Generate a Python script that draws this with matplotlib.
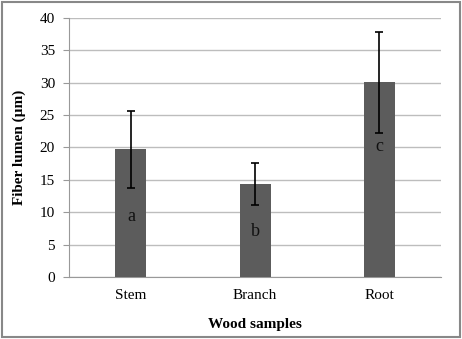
import matplotlib
matplotlib.use("Agg")
import matplotlib.pyplot as plt
from matplotlib.patches import Rectangle

categories = ["Stem", "Branch", "Root"]
values = [19.7, 14.4, 30.1]
errors = [5.9, 3.25, 7.8]
letters = ["a", "b", "c"]
letter_y = [9.3, 7.0, 20.2]

plt.rcParams['font.family'] = ['Liberation Serif', 'DejaVu Serif']

fig = plt.figure(figsize=(4.62, 3.39), dpi=100)
ax = fig.add_axes([0.149, 0.183, 0.806, 0.764])

x = list(range(len(categories)))
ax.bar(x, values, width=0.25, color="#5c5c5c", zorder=3,
       yerr=errors, error_kw=dict(ecolor="black", elinewidth=1.2, capsize=3, capthick=1.2, zorder=4))
for xi, ly, t in zip(x, letter_y, letters):
    ax.text(xi, ly, t, ha="center", va="center", fontsize=13, color="#111111", zorder=5)

ax.set_xlim(-0.5, 2.5)
ax.set_ylim(0, 40)
ax.set_yticks(range(0, 41, 5))
ax.set_xticks(x)
ax.set_xticklabels(categories)
ax.yaxis.grid(True, color="#bdbdbd", linewidth=1)
ax.set_axisbelow(True)
for s in ["top", "right"]:
    ax.spines[s].set_visible(False)
ax.spines["left"].set_color("#999999")
ax.spines["bottom"].set_color("#999999")
ax.tick_params(axis="y", length=4, color="#999999", labelsize=11, pad=6)
ax.tick_params(axis="x", length=0, labelsize=11, pad=9)
ax.set_ylabel("Fiber lumen (µm)", fontweight="bold", fontsize=11, labelpad=10)
ax.set_xlabel("Wood samples", fontweight="bold", fontsize=11, labelpad=11)

fig.patches.append(Rectangle((0.004, 0.006), 0.992, 0.988, transform=fig.transFigure,
                             fill=False, edgecolor="#888888", linewidth=1.5))

fig.savefig("out.png", dpi=100)
